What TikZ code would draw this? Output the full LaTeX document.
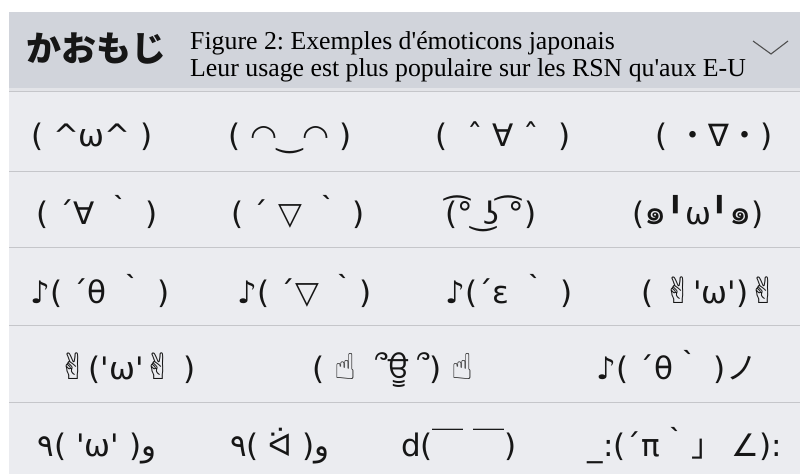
\documentclass[tikz,border=0pt]{standalone}
\usepackage{fontspec}
\setmainfont{Liberation Serif}[Ligatures=TeXOff]
\newfontfamily\dv{DejaVu Sans}[Ligatures=TeXOff]
\newfontfamily\jp{Noto Sans CJK JP}
\newfontfamily\thai[Script=Thai]{Loma}
\newfontfamily\guru[Script=Gurmukhi]{Hind Jalandhar}
\newfontfamily\arab[Script=Arabic]{DejaVu Sans}
\usetikzlibrary{positioning}
\frenchspacing

\definecolor{headbg}{HTML}{D1D4DB}
\definecolor{listbg}{HTML}{EBECF0}
\definecolor{strip}{HTML}{E3E4E8}
\definecolor{rule}{HTML}{C5C6CA}
\definecolor{ink}{HTML}{161616}

% bigger hand and Thai glyphs
\newcommand{\hand}[1]{{\fontsize{36}{36}\selectfont #1}}
\newcommand{\bigthai}{{\thai\fontsize{35}{35}\selectfont ๑}}

\begin{document}
\begin{tikzpicture}[x=1pt,y=-1pt,
    kao/.style={anchor=base, text=ink, inner sep=0pt, font=\dv\fontsize{31}{33}\selectfont},
    sepline/.style={draw=rule, line width=1pt}]
    % Background and header band
    \useasboundingbox (0,0) rectangle (800,474);
    \fill[white] (0,0) rectangle (800,474);
    \fill[listbg] (9,91) rectangle (800,474);
    \fill[headbg] (9,12) rectangle (800,88);
    \fill[strip] (9,88) rectangle (800,91);
    \draw[sepline] (9,91.5) -- (800,91.5);

    % Header texts
    \node[anchor=base west, inner sep=0pt, text=ink, font=\jp\bfseries\fontsize{35}{37}\selectfont] (kaomoji) at (26,61) {かおもじ};
    \node[anchor=base west, inner sep=0pt, font=\fontsize{25.8}{27}\selectfont] (title) at (190,49.5) {Figure 2: Exemples d'émoticons japonais};
    \node[anchor=base west, inner sep=0pt, font=\fontsize{25.8}{27}\selectfont] (subtitle) at (190,76) {Leur usage est plus populaire sur les RSN qu'aux E-U};
    \draw[ink!75, line width=1.1pt] (753,41) -- (771,54) -- (788,41);

    % Row separators
    \foreach \y in {171,247,325,402} {
      \draw[sepline] (9,\y) -- (800,\y);
    }

    % Row 1
    \foreach \n/\x/\k in {1/92/{( \textasciicircum{}ω\textasciicircum{} )}, 2/290/{( ◠‿◠ )}, 3/503/{( \ ˆ ∀ ˆ \ )}, 4/714/{( {\jp ・}∇{\jp ・})}} {
      \node[kao] (r1c\n) at (\x,146) {\k};
    }
    % Row 2
    \foreach \n/\x/\k in {1/97/{( ´∀ {\jp ｀} )}, 2/298/{( ´ ▽ {\jp ｀} )}, 3/491/{(͡° ͜ʖ ͡°)}, 4/698/{(\bigthai╹ω╹\bigthai )}} {
      \node[kao] (r2c\n) at (\x,224) {\k};
    }
    % Row 3
    \foreach \n/\x/\k in {1/100/{♪( ´θ {\jp ｀} )}, 2/305/{♪( ´▽ {\jp ｀})}, 3/509/{♪(´ε {\jp ｀} )}, 4/710/{( \hand{✌}'ω')\hand{✌}}} {
      \node[kao] (r3c\n) at (\x,303) {\k};
    }
    % Row 4
    \foreach \n/\x/\k in {1/127/{\hand{✌}('ω'\hand{✌} )}, 2/393/{( \hand{☝} \ ՞{\guru ਊ} ՞) \hand{☝}}, 3/677/{♪( ´θ{\jp ｀} ){\jp ノ}}} {
      \node[kao] (r4c\n) at (\x,379) {\k};
    }
    % Row 5
    \foreach \n/\x/\k in {1/97/{{\arab ٩}( 'ω' ){\arab و}}, 2/280/{{\arab ٩}( ᐛ ){\arab و}}, 3/459/{d({\jp ￣} {\jp ￣})}, 4/685/{\_:(´π{\jp ｀}{\jp 」} ∠):}} {
      \node[kao] (r5c\n) at (\x,456) {\k};
    }
\end{tikzpicture}
\end{document}
